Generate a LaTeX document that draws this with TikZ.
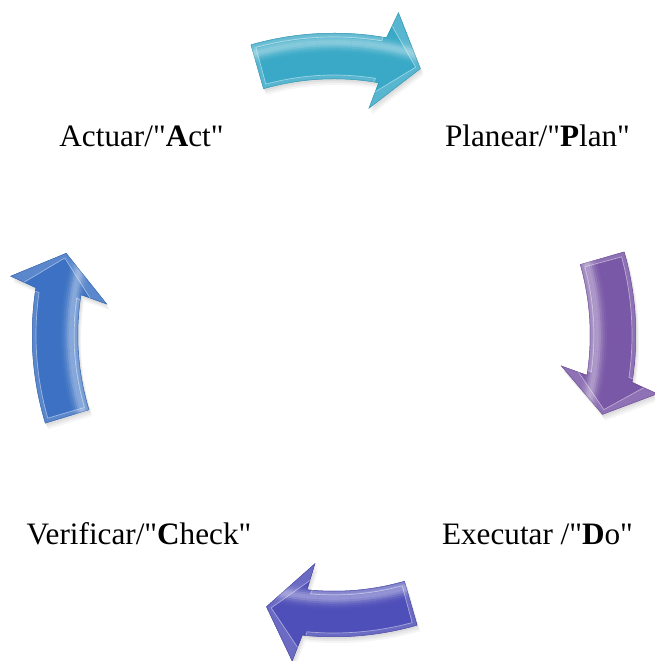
\documentclass[tikz,border=0pt]{standalone}
\usepackage{fontspec}
\newfontfamily\labelfont{Liberation Serif}

\definecolor{plancol}{HTML}{37A8C6}
\definecolor{docol}{HTML}{7856A6}
\definecolor{checkcol}{HTML}{4D4DB8}
\definecolor{actcol}{HTML}{3A70C2}

% Outline of a curved arrow running clockwise round the origin.
% #1 tail angle, #2 head-base angle, #3 tip angle, #4 inset (0 = outer edge)
\newcommand\ringarrow[4]{%
  ({#1-0.2*#4}:{302-#4})
  arc[start angle={#1-0.2*#4}, end angle={#2+0.2*#4}, radius={302-#4}]
  -- ({#2-1.3+0.35*#4}:{329-2.4*#4})
  -- ({#3+0.26*#4}:280)
  -- ({#2+1.3+0.35*#4}:{229+2.4*#4})
  -- ({#2+0.2*#4}:{256+#4})
  arc[start angle={#2+0.2*#4}, end angle={#1-0.2*#4}, radius={256+#4}]
  -- cycle}

% Bevelled arrow: #1 tail, #2 head base, #3 tip, #4 colour, #5 radius of the highlight
\newcommand\drawringarrow[5]{%
  \begin{scope}[shift={(334,326)}]
    \fill[black, opacity=0.05, xshift=1pt, yshift=-2pt] \ringarrow{#1}{#2}{#3}{0};
    \fill[black, opacity=0.05, xshift=2pt, yshift=-4pt] \ringarrow{#1}{#2}{#3}{0};
    \fill[black, opacity=0.04, xshift=3pt, yshift=-6pt] \ringarrow{#1}{#2}{#3}{0};
    \fill[#4] \ringarrow{#1}{#2}{#3}{0};
    \begin{scope}
      \clip \ringarrow{#1}{#2}{#3}{0};
      \foreach \r in {224,226,...,336} {
        \pgfmathtruncatemacro\w{100-40*exp(-1*pow(min(abs(\r-#5)/6,3),2))}
        \draw[line width=2.4pt, color=#4!\w!white] (0,0) circle (\r);
      }
      % bevel band along every edge
      \fill[white, opacity=0.16, even odd rule]
        \ringarrow{#1}{#2}{#3}{0} \ringarrow{#1}{#2}{#3}{4};
      \draw[white, opacity=0.45, line width=0.7pt] \ringarrow{#1}{#2}{#3}{4};
      \draw[#4!75!black, opacity=0.4, line width=1pt] \ringarrow{#1}{#2}{#3}{0};
    \end{scope}
  \end{scope}}

\tikzset{
  x=1pt, y=1pt,
  phase label/.style={font=\labelfont\fontsize{31.2}{37}\selectfont,
    inner sep=0pt, anchor=base},
}

\begin{document}
\begin{tikzpicture}
  \useasboundingbox (0,0) rectangle (655,661);

  % the four arrows of the cycle
  \drawringarrow{106}{80}{72}{plancol}{293}
  \drawringarrow{16}{-9}{-16.5}{docol}{263}
  \drawringarrow{-74}{-96}{-104}{checkcol}{263}
  \drawringarrow{197}{171}{163}{actcol}{263}

  % phase labels
  \node[phase label] (act)   at (141.5,514) {Actuar/"\textbf{A}ct"};
  \node[phase label] (plan)  at (537.5,514) {Planear/"\textbf{P}lan"};
  \node[phase label] (check) at (139,116)   {Verificar/"\textbf{C}heck"};
  \node[phase label] (do)    at (537.5,116) {Executar /"\textbf{D}o"};
\end{tikzpicture}
\end{document}
